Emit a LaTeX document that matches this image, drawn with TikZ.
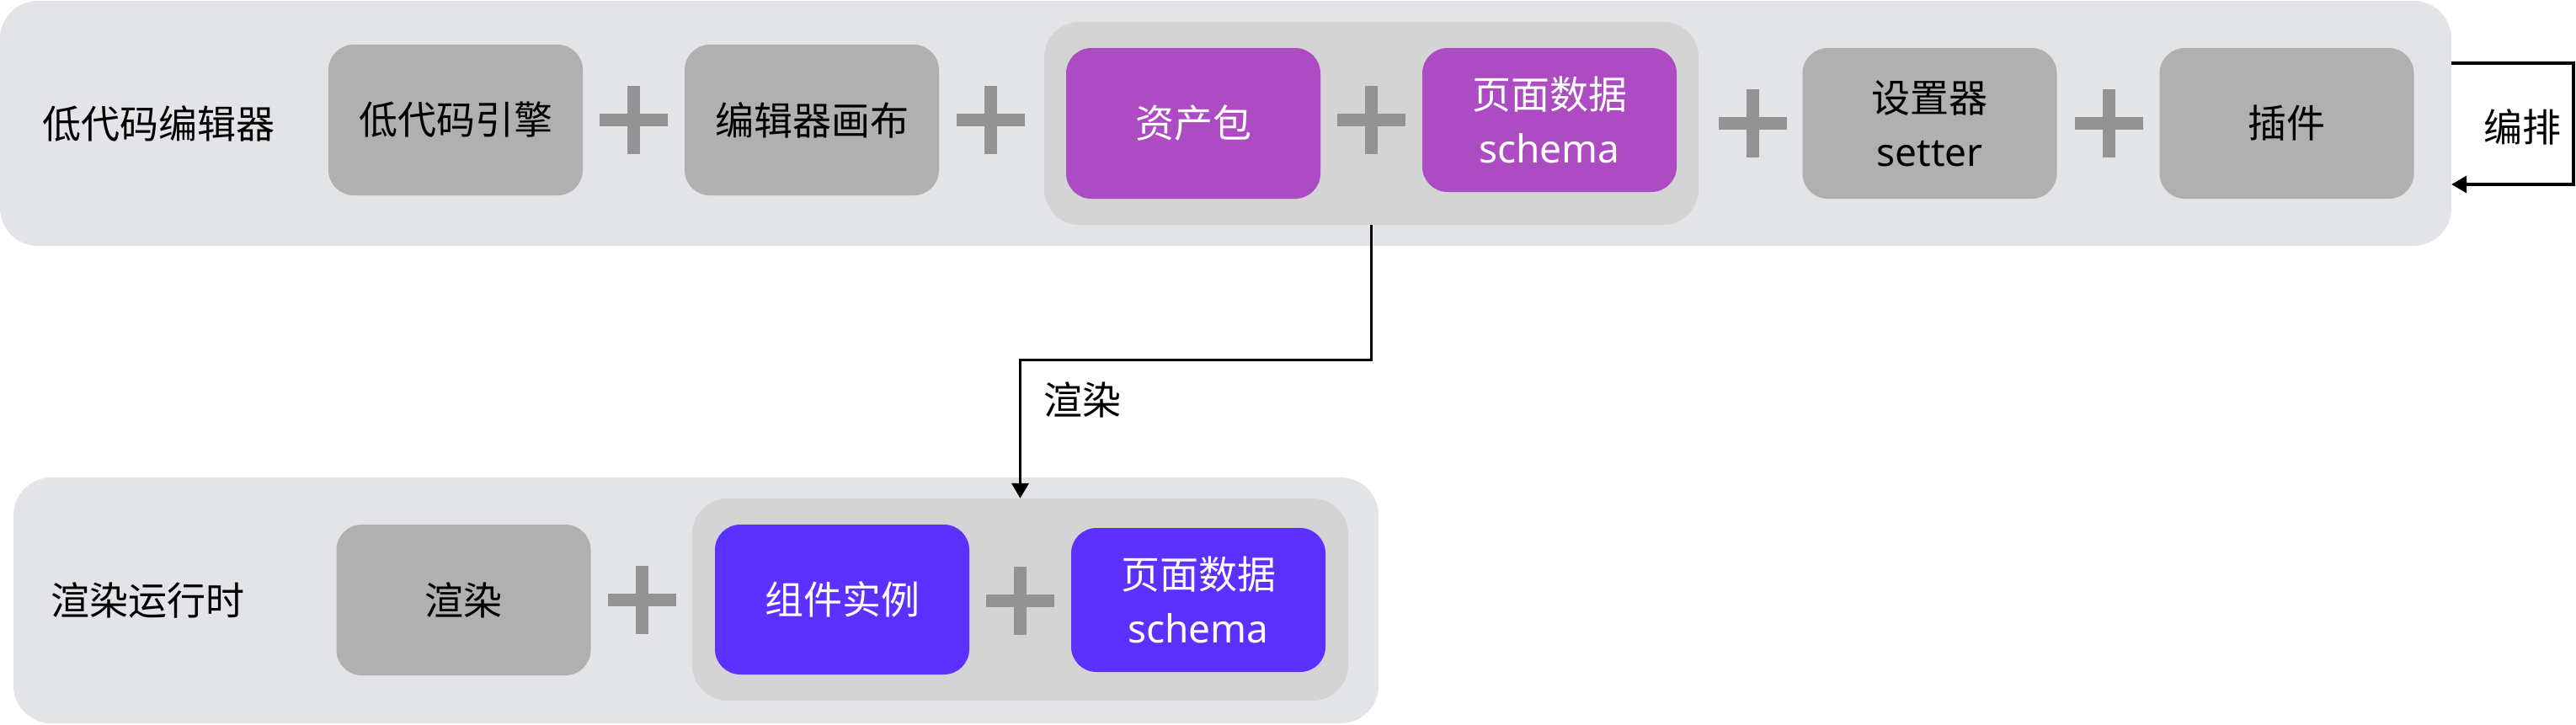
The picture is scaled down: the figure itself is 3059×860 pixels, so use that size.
\documentclass[tikz,border=0pt]{standalone}
\usepackage{fontspec}
\setmainfont{Noto Sans CJK SC}
\newfontfamily\latinfont{Noto Sans}
\usetikzlibrary{arrows.meta}
\definecolor{outerbg}{HTML}{E3E4E8}
\definecolor{groupbg}{HTML}{D4D4D4}
\definecolor{graybox}{HTML}{B0B0B0}
\definecolor{plusgray}{HTML}{939393}
\definecolor{purplebox}{HTML}{AD4BC3}
\definecolor{bluebox}{HTML}{5C30FF}
\begin{document}
\begin{tikzpicture}[x=1pt,y=-1pt,
  every node/.style={font=\fontsize{46}{64}\selectfont, inner sep=0pt},
  panel/.style={fill=outerbg, rounded corners=45pt},
  groupbox/.style={fill=groupbg, rounded corners=42pt},
  greybox/.style={fill=graybox, rounded corners=30pt, text=black, align=center, minimum width=302pt, minimum height=179pt},
  purplenode/.style={fill=purplebox, rounded corners=30pt, text=white, align=center, minimum width=302pt, minimum height=179pt},
  bluenode/.style={fill=bluebox, rounded corners=30pt, text=white, align=center, minimum width=302pt, minimum height=178pt},
  plusbar/.style={draw=plusgray, line width=15pt},
  plussign/.pic={\draw[plusbar] (-40.5,0) -- (40.5,0) (0,-40.5) -- (0,40.5);},
  conn/.style={draw=black, line width=3.5pt, -{Triangle[length=18pt,width=20pt]}}
]
\useasboundingbox (0,0) rectangle (3059,860);

% ---------- top panel ----------
\node[panel, minimum width=2911pt, minimum height=291pt] (editor) at (1455.5,146.5) {};
\node[groupbox, minimum width=777pt, minimum height=241pt] (g1) at (1628.5,146.5) {};
\node (t1) at (188.5,147) {低代码编辑器};
\node[greybox] (eng) at (541,142.5) {低代码引擎};
\node[greybox] (canvas) at (964,142.5) {编辑器画布};
\node[purplenode] (asset) at (1417,146.5) {资产包};
\node[purplenode, minimum height=171pt] (schema1) at (1840,142.5) {页面数据\\{\latinfont schema}};
\node[greybox] (setter) at (2291.5,146.5) {设置器\\{\latinfont setter}};
\node[greybox] (plugin) at (2715.5,146.5) {插件};
\pic at (752.5,142.5) {plussign};
\pic at (1176,142.5) {plussign};
\pic at (1628.5,142.5) {plussign};
\pic at (2081.5,146.5) {plussign};
\pic at (2504.5,146.5) {plussign};

% ---------- bottom panel ----------
\node[panel, minimum width=1621pt, minimum height=292pt] (runtime) at (826.5,713) {};
\node[groupbox, minimum width=779pt, minimum height=240pt] (g2) at (1211.5,712) {};
\node (t2) at (175.5,713) {渲染运行时};
\node[greybox] (render) at (550.5,712.5) {渲染};
\node[bluenode] (comp) at (1000,712) {组件实例};
\node[bluenode, minimum height=171pt] (schema2) at (1423,712.5) {页面数据\\{\latinfont schema}};
\pic at (762,712.5) {plussign};
\pic at (1211.5,713) {plussign};

% ---------- connectors ----------
\draw[conn] ([yshift=71.5pt]editor.east) -- ++(145,0) -- ++(0,144) -- ([yshift=-72.5pt]editor.east);
\node (l1) at (2995,151) {编排};
\draw[conn] (g1.south) -- ++(0,160.5) -| (g2.north);
\node[anchor=west] (l2) at (1239,475) {渲染};
\end{tikzpicture}
\end{document}
